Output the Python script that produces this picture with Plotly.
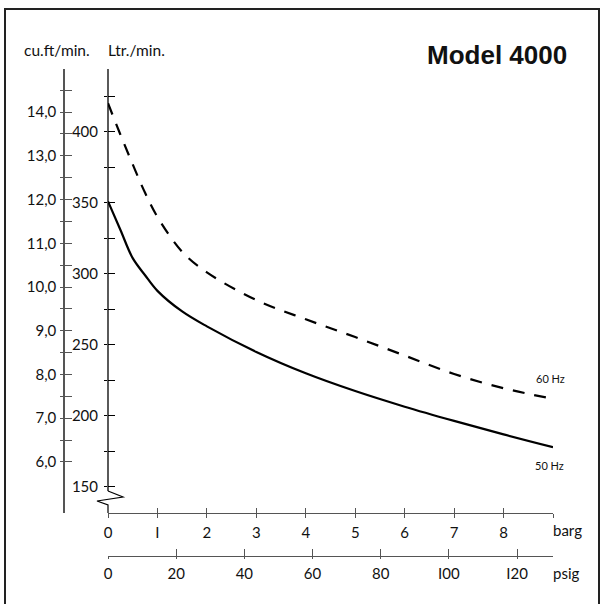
import plotly.graph_objects as go

# ---- data ----
barg = [0, 0.25, 0.5, 0.75, 1, 1.5, 2, 3, 4, 5, 6, 7, 8, 9]
flow_50hz = [351, 331, 311, 299, 288, 273.5, 263, 245, 230, 217.5, 206.5, 196.5, 187, 178]
flow_60hz = [420, 398, 377, 357, 340, 315.5, 301, 281.5, 268, 255.5, 242.5, 229.5, 219.5, 212]

ltr_ticks = [150, 175, 200, 225, 250, 275, 300, 325, 350, 375, 400, 425]
ltr_text = ["150", "", "200", "", "250", "", "300", "", "350", "", "400", ""]
cuft_ticks = [6, 6.5, 7, 7.5, 8, 8.5, 9, 9.5, 10, 10.5, 11, 11.5, 12, 12.5, 13, 13.5, 14, 14.5]
cuft_text = ["6,0", "", "7,0", "", "8,0", "", "9,0", "", "10,0", "", "11,0", "", "12,0", "",
             "13,0", "", "14,0", ""]
barg_ticks = [0, 1, 2, 3, 4, 5, 6, 7, 8, 9]
barg_text = ["0", "I", "2", "3", "4", "5", "6", "7", "8", ""]
psig_ticks = [0, 20, 40, 60, 80, 100, 120]
psig_text = ["0", "20", "40", "60", "80", "I00", "I20"]

# ---- geometry ----
W = H = 604
ML, MR, MT, MB = 40, 51, 69, 14
PW = W - ML - MR
PH = H - MT - MB


def px(x):
    return (x - ML) / PW


def py(y):
    return (H - MB - y) / PH


XDOM = [px(108), 1]
YDOM = [py(513), 1]
YR = [131.7, 444.1]
YR2 = [4.834, 14.983]

FONT = "Lato, 'Open Sans', sans-serif"
GREY = "#555555"

fig = go.Figure()
fig.add_trace(go.Scatter(x=barg, y=flow_60hz, mode="lines", line=dict(color="black", width=2.2, dash="12px,10px", shape="spline", smoothing=1.0),
                         showlegend=False, hoverinfo="skip"))
fig.add_trace(go.Scatter(x=barg, y=flow_50hz, mode="lines", line=dict(color="black", width=2.2, shape="spline", smoothing=1.0),
                         showlegend=False, hoverinfo="skip"))
# register helper axes
for xa, ya in [("x", "y2"), ("x", "y3"), ("x", "y4"), ("x2", "y"), ("x3", "y"), ("x4", "y")]:
    fig.add_trace(go.Scatter(x=[None], y=[None], xaxis=xa, yaxis=ya, showlegend=False, hoverinfo="skip"))

tickfont = dict(family=FONT, size=15, color="#111111")

fig.update_layout(
    width=W, height=H, margin=dict(l=ML, r=MR, t=MT, b=MB),
    paper_bgcolor="white", plot_bgcolor="white",
    xaxis=dict(domain=XDOM, range=[0, 9], anchor="y", showgrid=False, zeroline=False,
               showline=True, linecolor=GREY, linewidth=1.3,
               tickmode="array", tickvals=barg_ticks, ticktext=barg_text,
               ticks="outside", ticklen=4, tickcolor=GREY, tickwidth=1.3,
               tickfont=tickfont, ticklabelstandoff=2),
    xaxis3=dict(domain=XDOM, range=[0, 9], anchor="y", overlaying="x", showgrid=False, zeroline=False,
                showline=False, tickmode="array", tickvals=barg_ticks[1:],
                ticks="inside", ticklen=5, tickcolor=GREY, tickwidth=1.3, showticklabels=False),
    xaxis2=dict(domain=XDOM, range=[0, 9 * 14.5038], anchor="free", position=py(556), overlaying="x",
                showgrid=False, zeroline=False, showline=True, linecolor=GREY, linewidth=1.3,
                tickmode="array", tickvals=psig_ticks, ticktext=psig_text,
                ticks="outside", ticklen=2, tickcolor=GREY, tickwidth=1.3,
                tickfont=tickfont, ticklabelstandoff=2),
    xaxis4=dict(domain=XDOM, range=[0, 9 * 14.5038], anchor="free", position=py(556), overlaying="x",
                showgrid=False, zeroline=False, showline=False,
                tickmode="array", tickvals=psig_ticks,
                ticks="inside", ticklen=7, tickcolor=GREY, tickwidth=1.3, showticklabels=False),
    yaxis=dict(domain=YDOM, range=YR, anchor="x", showgrid=False, zeroline=False, showline=False,
               tickmode="array", tickvals=ltr_ticks, ticktext=ltr_text,
               ticks="outside", ticklen=3, tickcolor="black", tickwidth=1.3,
               tickfont=tickfont, ticklabelstandoff=3),
    yaxis3=dict(range=YR, anchor="x", overlaying="y", showgrid=False, zeroline=False, showline=False,
                tickmode="array", tickvals=ltr_ticks, ticks="inside", ticklen=7,
                tickcolor="black", tickwidth=1.3, showticklabels=False),
    yaxis2=dict(range=YR2, anchor="free", position=px(64), overlaying="y", showgrid=False, zeroline=False,
                showline=True, linecolor=GREY, linewidth=1.5,
                tickmode="array", tickvals=cuft_ticks, ticktext=cuft_text,
                ticks="outside", ticklen=3, tickcolor=GREY, tickwidth=1.3,
                tickfont=tickfont, ticklabelstandoff=1),
    yaxis4=dict(range=YR2, anchor="free", position=px(64), overlaying="y", showgrid=False, zeroline=False,
                showline=False, tickmode="array", tickvals=cuft_ticks,
                ticks="inside", ticklen=7, tickcolor=GREY, tickwidth=1.3, showticklabels=False),
)

shapes = []
# Ltr axis line with break
shapes.append(dict(type="line", xref="paper", yref="paper", x0=px(108), x1=px(108), y0=py(69), y1=py(491),
                   line=dict(color="black", width=1.3)))
zig = [(108, 491), (123, 497), (97, 501), (108, 505), (108, 513)]
path = "M " + " L ".join(f"{px(a):.5f},{py(b):.5f}" for a, b in zig)
shapes.append(dict(type="path", xref="paper", yref="paper", path=path, line=dict(color="black", width=1.2)))
# frame
shapes.append(dict(type="rect", xref="paper", yref="paper", x0=px(5), x1=px(599), y0=py(9), y1=py(605),
                   line=dict(color="#222222", width=2)))
fig.update_layout(shapes=shapes)

ann = []
ann.append(dict(text="<b>Model 4000</b>", x=px(497), y=py(55), xref="paper", yref="paper", showarrow=False,
                xanchor="center", yanchor="middle", font=dict(family="Liberation Sans, Arial", size=26, color="#111111")))
ann.append(dict(text="cu.ft/min.", x=px(57), y=py(50), xref="paper", yref="paper", showarrow=False,
                xanchor="center", yanchor="middle", font=dict(family=FONT, size=15.5, color="#111111")))
ann.append(dict(text="Ltr./min.", x=px(136), y=py(50), xref="paper", yref="paper", showarrow=False,
                xanchor="center", yanchor="middle", font=dict(family=FONT, size=15.5, color="#111111")))
ann.append(dict(text="barg", x=px(551), y=py(530), xref="paper", yref="paper", showarrow=False,
                xanchor="left", yanchor="middle", font=dict(family=FONT, size=15, color="#111111")))
ann.append(dict(text="psig", x=px(551), y=py(573), xref="paper", yref="paper", showarrow=False,
                xanchor="left", yanchor="middle", font=dict(family=FONT, size=15, color="#111111")))
ann.append(dict(text="60 Hz", x=px(550), y=py(378), xref="paper", yref="paper", showarrow=False,
                xanchor="center", yanchor="middle", font=dict(family=FONT, size=11, color="#111111")))
ann.append(dict(text="50 Hz", x=px(549), y=py(465), xref="paper", yref="paper", showarrow=False,
                xanchor="center", yanchor="middle", font=dict(family=FONT, size=11, color="#111111")))
fig.update_layout(annotations=ann)

fig.write_html("out.html", config={"displayModeBar": False},
               post_script="document.body.style.margin='0px';document.body.style.overflow='hidden';")
